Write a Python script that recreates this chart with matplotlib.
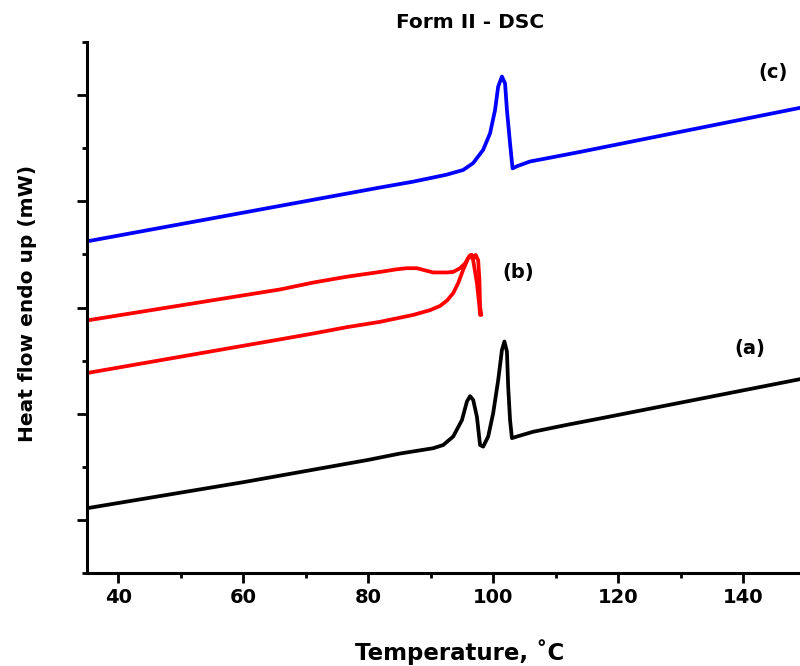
import matplotlib
matplotlib.use("Agg")
import matplotlib.pyplot as plt
from matplotlib.ticker import MultipleLocator

plt.rcParams['font.family'] = ['DejaVu Sans']
plt.rcParams['font.weight'] = 'bold'

# curve (a) - black
temp_a = [35, 60, 80, 85.1, 90.4, 92.0, 93.6, 95.0, 95.8, 96.3, 96.8, 97.4,
          97.9, 98.4, 99.2, 100.0, 100.8, 101.4, 101.8, 102.2, 102.4, 102.7,
          103.0, 103.8, 106.4, 111.8, 117.1, 149.1]
heat_a = [1.22, 1.71, 2.13, 2.25, 2.35, 2.41, 2.57, 2.88, 3.23, 3.33, 3.26,
          2.94, 2.41, 2.38, 2.57, 3.01, 3.63, 4.20, 4.36, 4.17, 3.51, 2.88,
          2.54, 2.57, 2.66, 2.79, 2.91, 3.65]

# curve (b) - red, upper trace
temp_b1 = [35.2, 65.9, 71.2, 76.6, 81.9, 84.6, 86.2, 87.8, 89.4, 90.4, 92.6,
           93.6, 94.7, 95.5, 96.2, 96.6, 96.9, 97.2, 97.6, 97.8, 97.9, 98.1]
heat_b1 = [4.76, 5.34, 5.47, 5.58, 5.67, 5.72, 5.74, 5.74, 5.69, 5.66, 5.66,
           5.67, 5.74, 5.83, 5.97, 5.99, 5.93, 5.99, 5.89, 5.52, 5.02, 4.86]

# curve (b) - red, lower trace
temp_b2 = [35.2, 65.9, 71.2, 76.6, 81.9, 87.2, 89.9, 91.5, 92.6, 93.6, 94.4,
           95.2, 96.0, 96.4, 96.8, 97.4, 97.8, 97.9]
heat_b2 = [3.77, 4.40, 4.51, 4.63, 4.73, 4.86, 4.95, 5.03, 5.13, 5.27, 5.46,
           5.71, 5.93, 5.99, 5.89, 5.46, 5.02, 4.86]

# curve (c) - blue
temp_c = [35.2, 81.9, 87.2, 92.5, 95.2, 96.8, 98.4, 99.5, 100.3, 100.8,
          101.4, 101.9, 102.2, 102.7, 103.1, 103.8, 105.9, 108.6, 113.9, 149.1]
heat_c = [6.25, 7.26, 7.37, 7.50, 7.59, 7.72, 7.97, 8.28, 8.72, 9.16, 9.35,
          9.22, 8.72, 8.09, 7.62, 7.66, 7.75, 7.81, 7.93, 8.76]

fig = plt.figure(figsize=(8, 6.66), dpi=100)
ax = fig.add_axes([87 / 800, 93 / 666, 713 / 800, 531 / 666])

lw = 2.7
for t, h, c in [(temp_a, heat_a, 'black'), (temp_b1, heat_b1, 'red'),
                (temp_b2, heat_b2, 'red'), (temp_c, heat_c, 'blue')]:
    ax.plot(t, h, color=c, lw=lw, solid_joinstyle='round',
            solid_capstyle='round')

ax.text(144.8, 9.42, '(c)', fontsize=14, fontweight='bold', ha='center', va='center')
ax.text(104.0, 5.65, '(b)', fontsize=14, fontweight='bold', ha='center', va='center')
ax.text(141.1, 4.22, '(a)', fontsize=14, fontweight='bold', ha='center', va='center')

ax.set_xlim(35, 149.1)
ax.set_ylim(0, 10)
ax.set_xticks([40, 60, 80, 100, 120, 140])
ax.xaxis.set_minor_locator(MultipleLocator(10))
ax.set_yticks([1, 3, 5, 7, 9])
ax.set_yticks([0, 2, 4, 6, 8, 10], minor=True)
ax.set_yticklabels([])

for s in ['top', 'right']:
    ax.spines[s].set_visible(False)
for s in ['left', 'bottom']:
    ax.spines[s].set_linewidth(2.2)
ax.tick_params(which='major', direction='out', length=7, width=2.0,
               labelsize=14, pad=4)
ax.tick_params(which='minor', direction='out', length=3.5, width=2.0)

fig.text(470 / 800, 1 - 22 / 666, 'Form II - DSC', fontsize=14.5,
         fontweight='bold', ha='center', va='center')
fig.text(460 / 800, 1 - 652 / 666, 'Temperature, ˚C', fontsize=16.5,
         fontweight='bold', ha='center', va='center')
fig.text(28 / 800, 1 - 303 / 666, 'Heat flow endo up (mW)', fontsize=14.5,
         fontweight='bold', ha='center', va='center', rotation=90)

fig.savefig('out.png', dpi=100)
